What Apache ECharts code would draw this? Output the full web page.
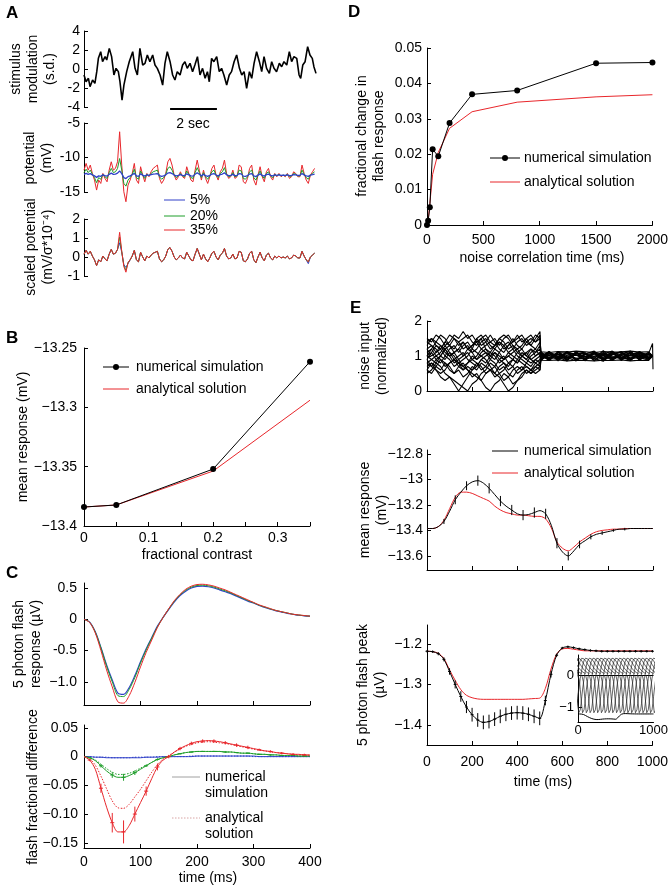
<!DOCTYPE html>
<html><head><meta charset="utf-8">
<script src="https://cdn.jsdelivr.net/npm/echarts@6.0.0/dist/echarts.min.js"></script>
<style>html,body{margin:0;padding:0;background:#fff}#c{width:671px;height:890px}</style>
</head><body><div id="c"></div><script>
const FONT = "'Liberation Sans', Arial, Helvetica, sans-serif";
const RED = '#e8262b', GREEN = '#1f9e2a', BLUE = '#3040c8', BLACK = '#111111';

// ---------- Panel A ----------
const stimTime = [0,0.09,0.19,0.26,0.37,0.47,0.55,0.62,0.72,0.80,0.91,0.98,1.09,1.19,1.29,1.38,1.48,1.55,1.64,1.72,1.84,1.95,2.10,2.20,2.30,2.41,2.53,2.63,2.73,2.84,2.96,3.06,3.16,3.28,3.39,3.49,3.59,3.71,3.82,3.92,4.02,4.14,4.25,4.35,4.45,4.57,4.68,4.78,4.89,5.00,5.11,5.22,5.32,5.40,5.50,5.60,5.72,5.83,5.93,6.03,6.15,6.26,6.36,6.47,6.58,6.70,6.80,6.90,7.01,7.13,7.23,7.33,7.44,7.56,7.66,7.76,7.87,7.99,8.09,8.19,8.30,8.42,8.52,8.62,8.74,8.85,8.95,9.05,9.17,9.27,9.34,9.43,9.53,9.64,9.74,9.84,9.91,10.0];
const stimValue = [-0.63,-1.34,-0.98,-1.86,-1.16,-1.51,-0.28,1.12,1.82,0.77,
1.30,0.95,2.17,1.30,-0.63,0.07,-0.28,-1.34,-3.27,-1.69,
-0.28,0.77,1.82,0.07,-0.63,2.17,0.42,0.60,1.47,0.77,
1.47,0.42,0.07,-0.63,-1.69,0.60,1.82,0.77,-0.63,-1.16,
-0.28,-0.63,0.42,0.77,0.07,0.60,-0.28,0.42,1.30,-0.63,
0.07,-0.98,-0.28,-1.34,1.12,0.77,1.30,-0.28,0.07,-0.63,
-1.69,-0.63,-0.28,0.77,1.47,0.07,-0.63,-0.28,-2.04,-0.28,
-0.98,0.60,1.82,0.77,-0.28,1.30,0.07,-0.46,0.77,0.07,
-0.28,0.60,0.24,0.77,0.42,1.82,0.77,1.30,1.12,-0.63,
-0.98,0.42,0.77,2.35,1.47,1.12,0.24,-0.46];
const scaleBarTime = [3.71, 5.73];
const scaleBarLevel = -4.2;
const potSpan = 9.94;
const potRed = [-11.83,-10.86,-11.83,-11.10,-12.31,-13.27,-14.72,-13.27,-13.76,-12.31,
-13.03,-13.52,-11.83,-10.62,-11.83,-11.58,-10.62,-6.27,-11.10,-14.97,
-16.41,-14.00,-13.27,-12.31,-10.86,-13.27,-13.76,-11.34,-12.55,-13.52,
-12.31,-12.79,-12.07,-11.58,-11.34,-11.10,-13.03,-13.76,-13.27,-12.31,
-10.62,-10.13,-11.10,-12.55,-13.27,-12.79,-12.07,-12.79,-13.03,-11.34,
-12.31,-13.27,-13.52,-11.83,-10.38,-11.83,-13.27,-11.83,-13.03,-13.76,
-12.79,-11.58,-11.10,-12.55,-13.27,-12.07,-11.58,-10.38,-12.31,-13.03,
-12.79,-11.83,-13.03,-12.79,-11.10,-11.34,-13.52,-13.76,-13.03,-11.58,
-11.10,-13.27,-14.00,-12.55,-11.34,-12.79,-13.52,-12.07,-11.58,-12.79,
-13.27,-12.31,-12.79,-12.31,-12.79,-12.55,-12.79,-12.31,-13.03,-12.79,
-12.07,-12.31,-12.79,-12.79,-11.10,-12.31,-13.27,-13.76,-12.55,-12.07,
-11.58];
const potGreen = [-12.19,-11.70,-12.19,-11.83,-12.43,-12.91,-13.65,-12.91,-13.15,-12.43,
-12.79,-13.03,-12.19,-11.58,-12.19,-12.07,-11.58,-10.15,-11.83,-13.75,
-14.15,-13.27,-12.91,-12.43,-11.70,-12.91,-13.15,-11.95,-12.55,-13.03,
-12.43,-12.67,-12.31,-12.07,-11.95,-11.83,-12.79,-13.15,-12.91,-12.43,
-11.58,-11.35,-11.83,-12.55,-12.91,-12.67,-12.31,-12.67,-12.79,-11.95,
-12.43,-12.91,-13.03,-12.19,-11.47,-12.19,-12.91,-12.19,-12.79,-13.15,
-12.67,-12.07,-11.83,-12.55,-12.91,-12.31,-12.07,-11.47,-12.43,-12.79,
-12.67,-12.19,-12.79,-12.67,-11.83,-11.95,-13.03,-13.15,-12.79,-12.07,
-11.83,-12.91,-13.27,-12.55,-11.95,-12.67,-13.03,-12.31,-12.07,-12.67,
-12.91,-12.43,-12.67,-12.43,-12.67,-12.55,-12.67,-12.43,-12.79,-12.67,
-12.31,-12.43,-12.67,-12.67,-11.83,-12.43,-12.91,-13.15,-12.55,-12.31,
-12.07];
const potBlue = [-12.44,-12.30,-12.44,-12.33,-12.51,-12.66,-12.88,-12.66,-12.73,-12.51,
-12.62,-12.70,-12.44,-12.26,-12.44,-12.40,-12.26,-11.95,-12.33,-12.91,
-13.05,-12.77,-12.66,-12.51,-12.30,-12.66,-12.73,-12.37,-12.55,-12.70,
-12.51,-12.59,-12.48,-12.40,-12.37,-12.33,-12.62,-12.73,-12.66,-12.51,
-12.26,-12.19,-12.33,-12.55,-12.66,-12.59,-12.48,-12.59,-12.62,-12.37,
-12.51,-12.66,-12.70,-12.44,-12.22,-12.44,-12.66,-12.44,-12.62,-12.73,
-12.59,-12.40,-12.33,-12.55,-12.66,-12.48,-12.40,-12.22,-12.51,-12.62,
-12.59,-12.44,-12.62,-12.59,-12.33,-12.37,-12.70,-12.73,-12.62,-12.40,
-12.33,-12.66,-12.77,-12.55,-12.37,-12.59,-12.70,-12.48,-12.40,-12.59,
-12.66,-12.51,-12.59,-12.51,-12.59,-12.55,-12.59,-12.51,-12.62,-12.59,
-12.48,-12.51,-12.59,-12.59,-12.33,-12.51,-12.66,-12.73,-12.55,-12.48,
-12.40];
const scaledRed = [0.15,0.35,0.15,0.30,0.05,-0.15,-0.45,-0.15,-0.25,0.05,
-0.10,-0.20,0.15,0.40,0.15,0.20,0.40,1.30,0.30,-0.50,
-0.80,-0.30,-0.15,0.05,0.35,-0.15,-0.25,0.25,0,-0.20,
0.05,-0.05,0.10,0.20,0.25,0.30,-0.10,-0.25,-0.15,0.05,
0.40,0.50,0.30,0,-0.15,-0.05,0.10,-0.05,-0.10,0.25,
0.05,-0.15,-0.20,0.15,0.45,0.15,-0.15,0.15,-0.10,-0.25,
-0.05,0.20,0.30,0,-0.15,0.10,0.20,0.45,0.05,-0.10,
-0.05,0.15,-0.10,-0.05,0.30,0.25,-0.20,-0.25,-0.10,0.20,
0.30,-0.15,-0.30,0,0.25,-0.05,-0.20,0.10,0.20,-0.05,
-0.15,0.05,-0.05,0.05,-0.05,0,-0.05,0.05,-0.10,-0.05,
0.10,0.05,-0.05,-0.05,0.30,0.05,-0.15,-0.25,0,0.10,
0.20];
const scaledGreen = [0.15,0.35,0.15,0.30,0.05,-0.15,-0.45,-0.15,-0.25,0.05,
-0.10,-0.20,0.15,0.40,0.15,0.20,0.40,1.05,0.28,-0.45,
-0.70,-0.30,-0.15,0.05,0.35,-0.15,-0.25,0.25,0,-0.20,
0.05,-0.05,0.10,0.20,0.25,0.30,-0.10,-0.25,-0.15,0.05,
0.40,0.50,0.30,0,-0.15,-0.05,0.10,-0.05,-0.10,0.25,
0.05,-0.15,-0.20,0.15,0.45,0.15,-0.15,0.15,-0.10,-0.25,
-0.05,0.20,0.30,0,-0.15,0.10,0.20,0.45,0.05,-0.10,
-0.05,0.15,-0.10,-0.05,0.30,0.25,-0.20,-0.25,-0.10,0.20,
0.30,-0.15,-0.30,0,0.25,-0.05,-0.20,0.10,0.20,-0.05,
-0.15,0.05,-0.05,0.05,-0.05,0,-0.05,0.05,-0.10,-0.05,
0.10,0.05,-0.05,-0.05,0.30,0.05,-0.15,-0.25,0,0.10,
0.20];
const scaledBlue = [0.15,0.35,0.15,0.30,0.05,-0.15,-0.45,-0.15,-0.25,0.05,
-0.10,-0.20,0.15,0.40,0.15,0.20,0.40,0.75,0.25,-0.40,
-0.55,-0.35,-0.15,0.05,0.35,-0.15,-0.25,0.25,0,-0.20,
0.05,-0.05,0.10,0.20,0.25,0.30,-0.10,-0.25,-0.15,0.05,
0.40,0.50,0.30,0,-0.15,-0.05,0.10,-0.05,-0.10,0.25,
0.05,-0.15,-0.20,0.15,0.45,0.15,-0.15,0.15,-0.10,-0.25,
-0.05,0.20,0.30,0,-0.15,0.10,0.20,0.45,0.05,-0.10,
-0.05,0.15,-0.10,-0.05,0.30,0.25,-0.20,-0.25,-0.10,0.20,
0.30,-0.15,-0.30,0,0.25,-0.05,-0.20,0.10,0.20,-0.05,
-0.15,0.05,-0.05,0.05,-0.05,0,-0.05,0.05,-0.10,-0.05,
0.10,0.05,-0.05,-0.05,0.30,0.05,-0.15,-0.35,0,0.10,
0.20];

// ---------- Panel B ----------
const contrast = [0, 0.05, 0.2, 0.35];
const meanNumB = [-13.384, -13.3823, -13.352, -13.2615];
const meanAnaB = [-13.384, -13.3823, -13.3537, -13.294];

// ---------- Panel C ----------
const flashTime = [0,10,20,30,40,50,60,70,80,90,100,110,120,130,140,150,160,170,180,190,200,210,220,230,240,250,260,270,280,290,300,310,320,330,340,350,360,370,380,390,400];
const flashRed = [0,-0.05,-0.22,-0.50,-0.81,-1.08,-1.32,-1.34,-1.22,-1.01,-0.76,-0.53,-0.33,-0.13,0.03,0.17,0.30,0.40,0.48,0.53,0.555,0.56,0.55,0.53,0.50,0.47,0.43,0.39,0.35,0.31,0.27,0.23,0.20,0.17,0.14,0.12,0.10,0.08,0.07,0.06,0.05];
const flashGreen = [0,-0.047,-0.205,-0.46,-0.75,-1.00,-1.22,-1.235,-1.12,-0.93,-0.70,-0.49,-0.30,-0.12,0.03,0.165,0.29,0.39,0.465,0.515,0.54,0.545,0.535,0.515,0.485,0.455,0.42,0.38,0.34,0.30,0.265,0.225,0.195,0.165,0.14,0.12,0.10,0.08,0.068,0.058,0.05];
const flashBlue = [0,-0.045,-0.2,-0.45,-0.73,-0.97,-1.18,-1.20,-1.09,-0.90,-0.68,-0.47,-0.29,-0.11,0.03,0.16,0.28,0.38,0.45,0.50,0.525,0.53,0.52,0.50,0.47,0.44,0.41,0.37,0.33,0.29,0.26,0.22,0.19,0.16,0.135,0.115,0.095,0.08,0.065,0.055,0.05];
const diffRedNum = [0,-0.006,-0.022,-0.055,-0.088,-0.115,-0.131,-0.131,-0.12,-0.10,-0.08,-0.06,-0.038,-0.018,-0.006,0.0,0.008,0.014,0.019,0.023,0.026,0.027,0.028,0.027,0.026,0.024,0.022,0.020,0.018,0.016,0.014,0.012,0.010,0.009,0.007,0.006,0.005,0.004,0.004,0.003,0.003];
const diffRedAna = [0,-0.004,-0.015,-0.034,-0.056,-0.077,-0.089,-0.090,-0.083,-0.07,-0.057,-0.042,-0.027,-0.014,-0.004,0.002,0.008,0.013,0.018,0.021,0.024,0.025,0.026,0.025,0.024,0.023,0.021,0.019,0.017,0.015,0.013,0.011,0.010,0.008,0.007,0.006,0.005,0.004,0.003,0.003,0.002];
const diffGreenNum = [0,-0.002,-0.007,-0.016,-0.025,-0.032,-0.036,-0.036,-0.033,-0.028,-0.022,-0.016,-0.010,-0.005,-0.002,0.0,0.003,0.005,0.007,0.008,0.009,0.009,0.009,0.009,0.009,0.008,0.008,0.007,0.006,0.006,0.005,0.004,0.004,0.003,0.003,0.002,0.002,0.002,0.001,0.001,0.001];
const diffGreenAna = [0,-0.002,-0.006,-0.013,-0.021,-0.027,-0.031,-0.031,-0.029,-0.025,-0.020,-0.015,-0.010,-0.005,-0.002,0.0,0.003,0.005,0.007,0.008,0.009,0.009,0.009,0.009,0.009,0.008,0.008,0.007,0.006,0.006,0.005,0.004,0.004,0.003,0.003,0.002,0.002,0.002,0.001,0.001,0.001];
const diffBlueNum = [0,0,-0.001,-0.001,-0.002,-0.002,-0.002,-0.002,-0.002,-0.002,-0.002,-0.001,-0.001,-0.001,0,0,0,0,0,0,0.001,0.001,0.001,0.001,0.001,0.001,0.001,0.001,0.001,0.001,0.001,0,0,0,0,0,0,0,0,0,0];
const diffBlueAna = [0,0,-0.001,-0.001,-0.001,-0.002,-0.002,-0.002,-0.002,-0.001,-0.001,-0.001,-0.001,0,0,0,0,0,0,0.001,0.001,0.001,0.001,0.001,0.001,0.001,0.001,0.001,0.001,0.001,0,0,0,0,0,0,0,0,0,0,0];
const errTimeC = [10,30,50,70,90,110,130,150,170,190,210,230,250,270,290,310,330,350,370,390];
const errRedC = [0.002,0.008,0.017,0.02,0.013,0.008,0.006,0.003,0.003,0.003,0.003,0.003,0.003,0.003,0.003,0.002,0.002,0.002,0.002,0.002];
const errGreenC = [0.001,0.003,0.005,0.006,0.004,0.002,0.002,0.001,0.001,0.001,0.001,0.001,0.001,0.001,0.001,0.001,0.001,0.001,0.001,0.001];
const errBlueC = [0.0005,0.0005,0.0005,0.0005,0.0005,0.0005,0.0005,0.0005,0.0005,0.0005,0.0005,0.0005,0.0005,0.0005,0.0005,0.0005,0.0005,0.0005,0.0005,0.0005];

// ---------- Panel D ----------
const corrTime = [0,10,25,50,100,200,400,800,1500,2000];
const corrNum = [0,0.0012,0.005,0.0214,0.0194,0.0288,0.0369,0.0380,0.0457,0.0459];
const corrAna = [0,0.0012,0.006,0.0143,0.0205,0.0273,0.032,0.0347,0.0362,0.0368];

// ---------- Panel E ----------
const noiseTime = [0,20,40,60,80,100,120,140,160,180,200,220,240,260,280,300,320,340,360,380,400,420,440,460,480,500,504,540,580,620,660,700,740,780,820,860,900,940,980,998,1000];
const noiseTraces = [
 [0.9,1.1,1.3,1.2,1.4,1.3,1.5,1.4,1.2,1.3,1.1,1.2,1.4,1.5,1.3,1.2,1.4,1.3,1.1,1.2,1.4,1.5,1.3,1.4,1.6,1.5, 1.12,1.10,1.13,1.11,1.14,1.12,1.10,1.13,1.11,1.12,1.14,1.11,1.12,1.01,1.00],
 [0.6,0.5,0.7,0.6,0.8,0.7,0.5,0.6,0.4,0.5,0.7,0.6,0.8,0.7,0.6,0.5,0.7,0.8,0.6,0.7,0.9,0.8,0.7,0.6,0.8,0.7, 0.90,1.10,0.92,1.13,0.90,1.06,1.14,0.90,1.08,0.92,1.12,0.88,1.06,1.36,0.62],
 [1.0,0.9,0.8,0.7,0.5,0.4,0.3,0.2,0.1,0.0,0.2,0.3,0.5,0.6,0.8,0.7,0.9,1.0,0.8,0.9,1.1,1.0,0.9,1.1,1.2,1.0, 1.13,0.88,1.06,0.87,1.10,0.97,1.11,0.89,1.12,0.90,1.04,1.12,0.90,0.99,1.00],
 [1.3,1.5,1.4,1.6,1.5,1.3,1.2,1.4,1.5,1.6,1.4,1.3,1.5,1.2,1.1,1.3,1.4,1.2,1.3,1.5,1.3,1.2,1.4,1.3,1.5,1.7, 0.88,0.87,0.89,0.86,0.88,0.87,0.86,0.88,0.87,0.89,0.86,0.88,0.87,1.01,1.00],
 [0.8,0.9,1.0,0.9,0.7,0.8,0.9,1.0,1.1,0.9,0.8,0.7,0.9,1.0,1.1,1.0,0.8,0.9,1.0,0.9,0.8,1.0,1.1,0.9,0.8,0.9, 1.10,0.87,1.12,0.96,0.86,1.09,0.93,1.15,0.90,1.02,0.87,1.07,0.93,1.00,1.00],
 [1.1,1.2,1.0,1.1,1.3,1.1,0.9,0.8,0.7,0.6,0.5,0.4,0.3,0.1,0.0,0.2,0.3,0.5,0.4,0.6,0.7,0.6,0.8,0.7,0.9,1.0, 0.92,1.08,0.86,1.13,1.03,0.89,1.09,0.96,1.13,0.87,1.09,0.93,1.11,0.99,1.00],
 [0.5,0.6,0.8,1.0,1.2,1.3,1.1,1.2,1.4,1.2,1.3,1.4,1.2,1.1,1.0,1.2,1.1,0.9,1.0,1.1,1.2,1.0,1.1,1.2,1.0,1.1, 1.15,0.96,1.04,0.89,1.11,0.86,1.12,1.03,0.87,1.07,1.13,0.96,0.88,1.00,1.00],
 [1.4,1.3,1.2,1.0,0.9,1.1,1.0,0.8,0.9,1.0,1.2,1.1,1.0,0.9,0.7,0.5,0.4,0.2,0.0,0.1,0.3,0.5,0.6,0.5,0.7,0.6, 0.85,1.11,0.91,1.09,0.88,1.04,0.93,0.85,1.07,1.12,0.89,1.11,1.03,1.00,1.00],
 [1.2,1.0,1.1,1.3,1.2,1.0,1.1,1.2,1.0,1.1,0.9,1.0,1.2,1.3,1.4,1.3,1.5,1.4,1.2,1.3,1.1,1.2,1.0,1.2,1.1,1.3, 1.05,1.07,1.04,1.06,1.08,1.05,1.07,1.04,1.06,1.05,1.08,1.06,1.05,1.01,1.00],
 [0.7,0.8,0.6,0.5,0.6,0.8,0.9,0.7,0.6,0.8,0.9,0.8,0.6,0.7,0.9,0.8,0.6,0.7,0.5,0.4,0.6,0.7,0.5,0.6,0.5,0.6, 0.95,1.13,0.97,0.86,1.13,1.09,0.88,1.06,1.14,0.97,0.87,1.13,0.97,1.00,1.00],
 [1.0,1.2,1.4,1.3,1.1,1.0,0.8,0.9,0.7,0.8,1.0,0.9,1.1,1.2,1.0,0.9,1.1,1.3,1.4,1.2,1.0,0.9,0.8,1.0,1.1,1.2, 1.03,0.87,1.10,1.12,0.91,0.94,1.06,0.88,1.03,1.13,0.93,1.04,0.89,1.00,1.00],
 [0.9,0.7,0.6,0.4,0.3,0.4,0.2,0.0,0.2,0.4,0.6,0.7,0.9,0.8,1.0,1.1,0.9,0.8,0.7,0.9,0.8,1.0,0.9,0.8,0.9,0.8, 0.94,0.95,0.93,0.96,0.94,0.92,0.95,0.93,0.96,0.94,0.93,0.95,0.94,1.00,1.00],
 [1.5,1.4,1.6,1.5,1.3,1.4,1.6,1.5,1.7,1.5,1.6,1.4,1.5,1.6,1.4,1.5,1.3,1.5,1.6,1.4,1.5,1.6,1.4,1.5,1.4,1.6, 1.00,1.01,0.99,1.00,1.02,0.99,1.00,1.01,0.98,1.00,1.01,0.99,1.00,1.00,1.00],
 [0.6,0.8,0.7,0.9,0.8,0.6,0.5,0.7,0.8,0.6,0.4,0.5,0.3,0.5,0.6,0.4,0.5,0.6,0.8,0.7,0.5,0.6,0.7,0.6,0.7,0.8, 1.11,0.92,1.05,0.90,1.12,0.93,1.07,0.91,1.06,0.95,1.10,0.90,1.04,1.00,1.00],
 [1.2,1.3,1.1,1.2,1.0,1.2,1.3,1.1,1.3,1.4,1.2,1.5,1.3,1.4,1.6,1.4,1.2,1.1,1.3,1.4,1.6,1.4,1.5,1.3,1.2,1.4, 0.88,1.06,0.95,1.12,0.87,1.05,0.98,1.10,0.89,1.07,0.94,1.09,0.96,1.00,1.00],
 [0.8,0.7,0.9,0.8,1.0,0.9,0.7,0.8,0.6,0.7,0.6,0.8,0.7,0.5,0.6,0.7,0.5,0.3,0.4,0.2,0.3,0.4,0.6,0.5,0.6,0.7, 1.06,0.90,1.09,0.97,1.04,0.88,1.08,0.94,1.11,0.90,1.03,0.97,1.08,1.00,1.00],
 [1.0,1.1,0.9,1.0,1.2,1.0,1.1,0.9,1.0,1.2,1.1,0.9,1.0,1.1,0.9,1.1,1.0,0.9,1.1,1.0,0.9,1.1,1.0,0.9,1.0,1.1, 0.97,1.13,0.88,1.02,1.08,0.92,1.10,0.87,1.05,1.11,0.90,1.02,0.94,1.00,1.00],
 [1.4,1.5,1.3,1.2,1.4,1.6,1.5,1.3,1.4,1.2,1.3,1.5,1.6,1.4,1.2,1.3,1.5,1.6,1.5,1.3,1.2,1.3,1.5,1.6,1.4,1.5, 1.02,0.93,1.12,0.91,1.06,1.08,0.86,1.09,0.92,1.04,1.14,0.89,1.06,1.00,1.00]
];
const eTime = [0,25,50,75,100,125,150,175,200,225,250,275,300,325,350,375,400,425,450,475,500,525,550,575,600,625,650,675,700,725,750,775,800,825,850,875,900,925,950,975,1000];
const eMeanNum = [-13.385,-13.385,-13.37,-13.33,-13.25,-13.16,-13.10,-13.05,-13.02,-13.01,-13.03,-13.07,-13.12,-13.17,-13.21,-13.24,-13.27,-13.28,-13.275,-13.26,-13.245,-13.27,-13.36,-13.50,-13.57,-13.60,-13.56,-13.51,-13.48,-13.45,-13.43,-13.42,-13.41,-13.40,-13.39,-13.39,-13.385,-13.385,-13.385,-13.385,-13.385];
const eMeanAna = [-13.385,-13.385,-13.37,-13.32,-13.23,-13.14,-13.10,-13.10,-13.11,-13.13,-13.15,-13.17,-13.21,-13.24,-13.26,-13.27,-13.28,-13.28,-13.285,-13.29,-13.29,-13.31,-13.38,-13.49,-13.54,-13.56,-13.53,-13.49,-13.46,-13.43,-13.41,-13.40,-13.395,-13.39,-13.39,-13.385,-13.385,-13.385,-13.385,-13.385,-13.385];
const eMeanErr = [0,0,0,0.02,0,0.035,0,0.035,0,0.04,0,0.04,0,0.04,0,0.04,0,0.04,0,0.04,0,0.04,0,0.04,0,0.035,0,0.03,0,0.02,0,0.015,0,0.01,0,0.01,0,0,0,0,0];
const ePeakNum = [-1.218,-1.219,-1.224,-1.238,-1.268,-1.30,-1.33,-1.356,-1.375,-1.388,-1.394,-1.392,-1.386,-1.379,-1.374,-1.371,-1.370,-1.371,-1.374,-1.379,-1.384,-1.34,-1.275,-1.228,-1.21,-1.207,-1.209,-1.212,-1.214,-1.216,-1.217,-1.218,-1.218,-1.218,-1.218,-1.218,-1.218,-1.218,-1.218,-1.218,-1.218];
const ePeakAna = [-1.218,-1.219,-1.223,-1.236,-1.264,-1.29,-1.313,-1.327,-1.333,-1.336,-1.337,-1.337,-1.337,-1.337,-1.337,-1.337,-1.337,-1.337,-1.336,-1.335,-1.334,-1.31,-1.262,-1.225,-1.212,-1.211,-1.213,-1.215,-1.217,-1.217,-1.217,-1.217,-1.217,-1.217,-1.217,-1.217,-1.217,-1.217,-1.217,-1.217,-1.217];
const ePeakErr = [0.003,0.003,0.004,0.005,0.008,0.01,0.013,0.015,0.017,0.017,0.017,0.017,0.017,0.017,0.017,0.017,0.017,0.017,0.017,0.017,0.017,0.012,0.008,0.004,0.003,0.003,0.003,0.003,0.003,0.003,0.003,0.003,0.003,0.003,0.003,0.003,0.003,0.003,0.003,0.003,0.003];
const flashOnsets = [-350,-300,-250,-200,-150,-100,-50,0,50,100,150,200,250,300,350,400,450,500,550,600,650,700,750,800,850,900,950];

// ---------- helpers ----------
function merge(a, b) {
  for (const k in b) {
    const v = b[k];
    if (v && typeof v === 'object' && !Array.isArray(v) && a[k] && typeof a[k] === 'object' && !Array.isArray(a[k])) merge(a[k], v);
    else a[k] = v;
  }
  return a;
}
const grids = [], xAxes = [], yAxes = [], series = [], G = [];
function baseAxis() {
  return { type: 'value', axisLine: { show: true, onZero: false, lineStyle: { color: '#000', width: 1 } },
    axisTick: { show: true, inside: true, length: 4, lineStyle: { color: '#000', width: 1 } },
    axisLabel: { show: true, color: '#000', fontSize: 14, fontFamily: FONT, margin: 5, formatter: v => String(v) },
    splitLine: { show: false } };
}
function panel(box, xo, yo) {
  const i = grids.length;
  grids.push(merge({ show: false, containLabel: false }, box));
  xAxes.push(merge(merge(baseAxis(), { gridIndex: i, position: 'bottom' }), xo));
  yAxes.push(merge(merge(baseAxis(), { gridIndex: i, position: 'left' }), yo));
  return i;
}
function line(gi, xs, ys, color, o) {
  return merge({ type: 'line', xAxisIndex: gi, yAxisIndex: gi, data: xs.map((x, k) => [x, ys[k]]),
    showSymbol: false, symbol: 'none', lineStyle: { color: color, width: 1 }, itemStyle: { color: color },
    animation: false, silent: true, z: 2 }, o || {});
}
function errBars(gi, xs, lo, hi, color, cap) {
  return { type: 'custom', xAxisIndex: gi, yAxisIndex: gi, silent: true, animation: false, z: 3, clip: false,
    data: xs.map((x, k) => [x, lo[k], hi[k]]),
    renderItem: function (params, api) {
      const a = api.coord([api.value(0), api.value(1)]), b = api.coord([api.value(0), api.value(2)]);
      const m = (a[1] + b[1]) / 2;
      const ch = [{ type: 'line', shape: { x1: a[0], y1: a[1], x2: b[0], y2: b[1] }, style: { stroke: color, lineWidth: 1 } }];
      if (cap) ch.push({ type: 'line', shape: { x1: a[0] - cap, y1: m, x2: a[0] + cap, y2: m }, style: { stroke: color, lineWidth: 1 } });
      return { type: 'group', children: ch };
    } };
}
const minus = s => String(s).replace('-', '\u2212');
function T(x, y, s, o) {
  G.push(merge({ type: 'text', x: x, y: y, silent: true, z: 100,
    style: { text: s, fill: '#000', font: '14px ' + FONT, align: 'left', verticalAlign: 'middle', textAlign: 'left', textVerticalAlign: 'middle' } }, o || {}));
}
function L(x1, y1, x2, y2, color, o) {
  G.push(merge({ type: 'line', silent: true, z: 100, shape: { x1: x1, y1: y1, x2: x2, y2: y2 }, style: { stroke: color, lineWidth: 1 } }, o || {}));
}
function Dot(cx, cy, r, color) { G.push({ type: 'circle', silent: true, z: 101, shape: { cx: cx, cy: cy, r: r }, style: { fill: color } }); }
function YT(cx, cy, s) { T(cx, cy, s, { rotation: Math.PI / 2, style: { align: 'center', textAlign: 'center', lineHeight: 17 } }); }
function XT(cx, cy, s) { T(cx, cy, s, { style: { align: 'center', textAlign: 'center' } }); }
function Letter(x, y, s) { T(x, y, s, { style: { font: 'bold 17px ' + FONT, verticalAlign: 'top', textVerticalAlign: 'top' } }); }

// ---------- Panel A ----------
const hiddenX = { show: false, min: 0, max: 10 };
const gA1 = panel({ left: 84, top: 31, width: 232, height: 76 }, hiddenX,
  { min: -4, max: 4, interval: 2, axisLabel: { margin: 4 } });
const gA2 = panel({ left: 84, top: 123, width: 232, height: 69 }, hiddenX,
  { min: -15, max: -5, interval: 5, axisLabel: { margin: 4 } });
const gA3 = panel({ left: 84, top: 219, width: 232, height: 57 }, hiddenX,
  { min: -1, max: 2, interval: 1, axisLabel: { margin: 4 } });
series.push(line(gA1, stimTime, stimValue, '#000', { lineStyle: { width: 1.6 } }));
series.push(line(gA1, scaleBarTime, [scaleBarLevel, scaleBarLevel], '#000', { lineStyle: { width: 2 }, clip: false }));
const potTime = potRed.map((_, k) => k * potSpan / (potRed.length - 1));
series.push(line(gA2, potTime, potRed, RED, { clip: false }));
series.push(line(gA2, potTime, potGreen, GREEN, { clip: false }));
series.push(line(gA2, potTime, potBlue, BLUE, { clip: false, lineStyle: { width: 1.3 } }));
series.push(line(gA3, potTime, scaledBlue, BLUE, { clip: false }));
series.push(line(gA3, potTime, scaledGreen, GREEN, { clip: false }));
series.push(line(gA3, potTime, scaledRed, RED, { clip: false }));

// ---------- Panel B ----------
const gB = panel({ left: 84, top: 348, width: 226, height: 178 },
  { min: 0, max: 0.35, axisLabel: { margin: 5, customValues: [0, 0.1, 0.2, 0.3], formatter: v => String(+v.toFixed(2)) },
    axisTick: { customValues: [0, 0.05, 0.1, 0.15, 0.2, 0.25, 0.3, 0.35] } },
  { min: -13.4, max: -13.25, axisLabel: { margin: 7, customValues: [-13.4, -13.35, -13.3, -13.25], formatter: v => '\u2212' + (+Math.abs(v).toFixed(2)) },
    axisTick: { customValues: [-13.4, -13.35, -13.3, -13.25] } });
series.push(line(gB, contrast, meanAnaB, RED));
series.push(line(gB, contrast, meanNumB, '#000', { showSymbol: true, symbol: 'circle', symbolSize: 6, z: 3 }));

// ---------- Panel C ----------
const gC1 = panel({ left: 84, top: 583, width: 226, height: 122 },
  { min: 0, max: 400, interval: 100, axisLabel: { show: false } },
  { min: -1.37, max: 0.58, axisLabel: { margin: 7, customValues: [-1, -0.5, 0, 0.5], formatter: v => v === -1 ? '\u22121.0' : String(v) },
    axisTick: { customValues: [-1, -0.5, 0, 0.5] } });
series.push(line(gC1, flashTime, flashBlue, BLUE, { smooth: 0.3, lineStyle: { width: 1.2 } }));
series.push(line(gC1, flashTime, flashGreen, GREEN, { smooth: 0.3 }));
series.push(line(gC1, flashTime, flashRed, RED, { smooth: 0.3 }));

const gC2 = panel({ left: 84, top: 725, width: 226, height: 123 },
  { min: 0, max: 400, interval: 100, axisLabel: { margin: 7 } },
  { min: -0.159, max: 0.055, axisLabel: { margin: 6, customValues: [-0.15, -0.1, -0.05, 0, 0.05], formatter: v => v === 0 ? '0' : (v < 0 ? '\u2212' : '') + Math.abs(v).toFixed(2) },
    axisTick: { customValues: [-0.15, -0.1, -0.05, 0, 0.05] } });
const dotted = { lineStyle: { type: [1.5, 1.5] } };
series.push(line(gC2, flashTime, diffBlueAna, BLUE, merge({ smooth: 0.3 }, dotted)));
series.push(line(gC2, flashTime, diffBlueNum, BLUE, { smooth: 0.3 }));
series.push(line(gC2, flashTime, diffGreenAna, GREEN, merge({ smooth: 0.3 }, dotted)));
series.push(line(gC2, flashTime, diffGreenNum, GREEN, { smooth: 0.3 }));
series.push(line(gC2, flashTime, diffRedAna, RED, merge({ smooth: 0.3 }, dotted)));
series.push(line(gC2, flashTime, diffRedNum, RED, { smooth: 0.3 }));
const idxC = errTimeC.map(t => flashTime.indexOf(t));
series.push(errBars(gC2, errTimeC, idxC.map((i, k) => diffBlueNum[i] - errBlueC[k]), idxC.map((i, k) => diffBlueNum[i] + errBlueC[k]), BLUE, 0));
series.push(errBars(gC2, errTimeC, idxC.map((i, k) => diffGreenNum[i] - errGreenC[k]), idxC.map((i, k) => diffGreenNum[i] + errGreenC[k]), GREEN, 2));
series.push(errBars(gC2, errTimeC, idxC.map((i, k) => diffRedNum[i] - errRedC[k]), idxC.map((i, k) => diffRedNum[i] + errRedC[k]), RED, 2));

// ---------- Panel D ----------
const gD = panel({ left: 427, top: 48, width: 227, height: 177 },
  { min: 0, max: 2000, interval: 500, axisLabel: { margin: 8 } },
  { min: 0, max: 0.05, axisLabel: { margin: 5, customValues: [0, 0.01, 0.02, 0.03, 0.04, 0.05], formatter: v => v === 0 ? '0' : v.toFixed(2) },
    axisTick: { customValues: [0, 0.01, 0.02, 0.03, 0.04, 0.05] } });
series.push(line(gD, corrTime, corrAna, RED));
series.push(line(gD, corrTime, corrNum, '#000', { showSymbol: true, symbol: 'circle', symbolSize: 6, z: 3 }));

// ---------- Panel E ----------
const gE1 = panel({ left: 427, top: 321, width: 226, height: 70 },
  { min: 0, max: 1000, interval: 200, axisLabel: { show: false } },
  { min: 0, max: 2, interval: 1, axisLabel: { margin: 5 } });
noiseTraces.forEach(tr => series.push(line(gE1, noiseTime, tr, '#000', { lineStyle: { width: 1.1 } })));

const gE2 = panel({ left: 427, top: 450, width: 226, height: 120 },
  { min: 0, max: 1000, interval: 200, axisLabel: { show: false } },
  { min: -13.71, max: -12.77, axisLabel: { margin: 4, customValues: [-13.6, -13.4, -13.2, -13, -12.8], formatter: v => '\u2212' + (+Math.abs(v).toFixed(1)) },
    axisTick: { customValues: [-13.6, -13.4, -13.2, -13, -12.8] } });
series.push(line(gE2, eTime, eMeanAna, RED, { smooth: 0.3 }));
series.push(line(gE2, eTime, eMeanNum, '#000', { smooth: 0.3 }));
const mIdx = eMeanErr.map((e, k) => k).filter(k => eMeanErr[k] > 0);
series.push(errBars(gE2, mIdx.map(k => eTime[k]), mIdx.map(k => eMeanNum[k] - eMeanErr[k]), mIdx.map(k => eMeanNum[k] + eMeanErr[k]), '#000', 0));

const gE3 = panel({ left: 427, top: 625, width: 226, height: 120 },
  { min: 0, max: 1000, interval: 200, axisLabel: { margin: 10 } },
  { min: -1.45, max: -1.153, axisLabel: { margin: 5, customValues: [-1.4, -1.3, -1.2], formatter: v => '\u2212' + (+Math.abs(v).toFixed(1)) },
    axisTick: { customValues: [-1.4, -1.3, -1.2] } });
series.push(line(gE3, eTime, ePeakAna, RED, { smooth: 0.3 }));
series.push(line(gE3, eTime, ePeakNum, '#000', { smooth: 0.3 }));
series.push(errBars(gE3, eTime, eTime.map((t, k) => ePeakNum[k] - ePeakErr[k]), eTime.map((t, k) => ePeakNum[k] + ePeakErr[k]), '#000', 1.5));

const gIn = panel({ left: 578, top: 655, width: 77, height: 67, show: true, backgroundColor: '#fff', borderWidth: 0 },
  { min: 0, max: 1000, axisTick: { show: false }, axisLabel: { margin: 2, fontSize: 13, customValues: [0, 1000] } },
  { min: -1.47, max: 0.625, axisTick: { customValues: [-1, 0] }, axisLabel: { margin: 4, fontSize: 13, customValues: [-1, 0], formatter: v => minus(v) } });
const insetData = [];
flashOnsets.forEach(o => { flashTime.forEach((t, k) => insetData.push([o + t, flashBlue[k]])); insetData.push(null); });
series.push({ type: 'line', xAxisIndex: gIn, yAxisIndex: gIn, data: insetData, connectNulls: false, showSymbol: false, symbol: 'none',
  lineStyle: { color: '#222', width: 0.7 }, animation: false, silent: true, z: 5,
  markLine: { silent: true, symbol: 'none', label: { show: false }, lineStyle: { color: '#000', width: 1, type: 'solid' }, data: [{ yAxis: 0 }], animation: false } });
series.push(line(gIn, eTime, ePeakNum, '#000', { z: 6, smooth: 0.3 }));

// ---------- text / legends ----------
Letter(6, 5, 'A'); Letter(6, 330, 'B'); Letter(6, 565, 'C'); Letter(348, 4, 'D'); Letter(350, 300, 'E');
YT(33, 69, 'stimulus\nmodulation\n(s.d.)');
YT(39, 158, 'potential\n(mV)');
YT(40, 247, 'scaled potential\n(mV/\u03c3*10\u207b\u2074)');
YT(23, 437, 'mean response (mV)');
YT(28, 644, '5 photon flash\nresponse (\u00b5V)');
YT(33, 787, 'flash fractional difference');
YT(371, 136, 'fractional change in\nflash response');
YT(374, 356, 'noise input\n(normalized)');
YT(374, 510, 'mean response\n(mV)');
YT(372, 685, '5 photon flash peak\n(\u00b5V)');
XT(193, 124, '2 sec');
XT(197, 555, 'fractional contrast');
XT(208, 878, 'time (ms)');
XT(542, 258, 'noise correlation time (ms)');
XT(543, 782, 'time (ms)');
// A legend
L(164, 200, 185, 200, BLUE); T(190, 200, '5%');
L(164, 216, 185, 216, GREEN); T(190, 216, '20%');
L(164, 230, 185, 230, RED); T(190, 230, '35%');
// B legend
L(103, 367, 129, 367, '#000'); Dot(116, 367, 3, '#000'); T(136, 367, 'numerical simulation');
L(103, 389, 129, 389, RED); T(136, 389, 'analytical solution');
// C legend
L(172, 777, 200, 777, '#a0a0a0'); T(205, 777, 'numerical'); T(205, 793, 'simulation');
L(172, 818, 200, 818, '#d8a4a4', { style: { lineDash: [1.5, 1.5] } }); T(205, 818, 'analytical'); T(205, 834, 'solution');
// D legend
L(490, 158, 520, 158, '#000'); Dot(505, 158, 3, '#000'); T(524, 158, 'numerical simulation');
L(490, 182, 520, 182, RED); T(524, 182, 'analytical solution');
// E legend
L(492, 451, 518, 451, '#000'); T(524, 451, 'numerical simulation');
L(492, 473, 518, 473, RED); T(524, 473, 'analytical solution');

const chart = echarts.init(document.getElementById('c'), null, { renderer: 'canvas' });
chart.setOption({ animation: false, backgroundColor: '#fff', grid: grids, xAxis: xAxes, yAxis: yAxes, series: series, graphic: { elements: G } });
</script></body></html>
